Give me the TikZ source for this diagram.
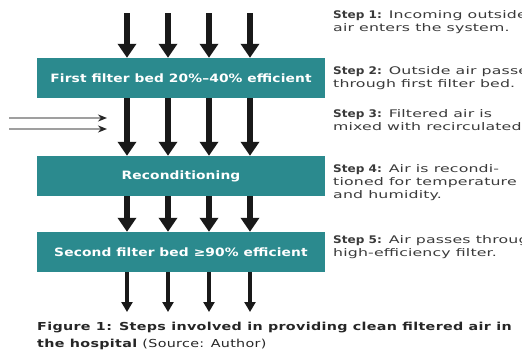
\documentclass[tikz,border=0pt]{standalone}
\usepackage{fontspec}
\setmainfont{DejaVu Sans}
\newfontfamily\boxfont{DejaVu Sans}[FakeStretch=1.2,LetterSpace=1]
\newfontfamily\notefont{DejaVu Sans}[FakeStretch=1.5,LetterSpace=1.5]
\newfontfamily\noteboldfont{DejaVu Sans Bold}[FakeStretch=1.15]
\newfontfamily\capfont{DejaVu Sans}[FakeStretch=1.3,LetterSpace=3]
\newcommand\steplabel[1]{{\noteboldfont #1}}
\usetikzlibrary{arrows.meta}
\definecolor{tealbox}{HTML}{2B8A8E}
\definecolor{notetext}{HTML}{3A3A3A}
\begin{document}
\begin{tikzpicture}[x=1pt,y=-1pt,
  box/.style={fill=tealbox, minimum width=288pt, minimum height=40pt, inner sep=0pt,
    text=white, font=\boxfont\fontsize{11.5}{13}\selectfont\bfseries},
  bigarrow/.style={line width=6pt, draw=black!90, -{Triangle[width=18pt,length=14pt]}},
  thinarrow/.style={line width=3.5pt, draw=black!90, -{Triangle[width=11pt,length=10pt]}},
  sidearrow/.style={line width=2.2pt, draw=gray!75, -{Stealth[width=7pt,length=9pt,color=black!85,fill=black!85]}},
  stepnote/.style={anchor=north west, align=left, inner sep=0pt, text=notetext,
    font=\notefont\fontsize{10.5}{13}\selectfont},
  caption/.style={anchor=north west, align=left, inner sep=0pt, text=black!85,
    font=\capfont\fontsize{11}{17}\selectfont}
]
\useasboundingbox (0,0) rectangle (522,356);
\clip (0,0) rectangle (522,356);

\node[box] (b1) at (181,78) {First filter bed 20\%–40\% efficient};
\node[box] (b2) at (181,176) {Reconditioning};
\node[box] (b3) at (181,252) {Second filter bed ≥90\% efficient};

\foreach \i/\x in {1/127,2/168,3/209,4/250}{
  \coordinate (t\i) at (\x,13);
  \coordinate (e\i) at (\x,312);
  \draw[bigarrow] (t\i) -- (t\i |- b1.north);
  \draw[bigarrow] (t\i |- b1.south) -- (t\i |- b2.north);
  \draw[bigarrow] (t\i |- b2.south) -- (t\i |- b3.north);
  \draw[thinarrow] (t\i |- b3.south) -- (e\i);
}

\coordinate (l1) at (9,118);
\coordinate (r1) at (107,118);
\coordinate (l2) at (9,129);
\coordinate (r2) at (107,129);
\draw[sidearrow] (l1) -- (r1);
\draw[sidearrow] (l2) -- (r2);

\node[stepnote] (s1) at (333,10) {\steplabel{Step 1:} Incoming outside\\air enters the system.};
\node[stepnote] (s2) at (333,66) {\steplabel{Step 2:} Outside air passes\\through first filter bed.};
\node[stepnote] (s3) at (333,109) {\steplabel{Step 3:} Filtered air is\\mixed with recirculated air};
\node[stepnote] (s4) at (333,164) {\steplabel{Step 4:} Air is recondi-\\tioned for temperature\\and humidity.};
\node[stepnote] (s5) at (333,235) {\steplabel{Step 5:} Air passes through\\high-efficiency filter.};

\node[caption] (cap) at (37,322) {\textbf{Figure 1: Steps involved in providing clean filtered air in}\\\textbf{the hospital} (Source: Author)};
\end{tikzpicture}
\end{document}
